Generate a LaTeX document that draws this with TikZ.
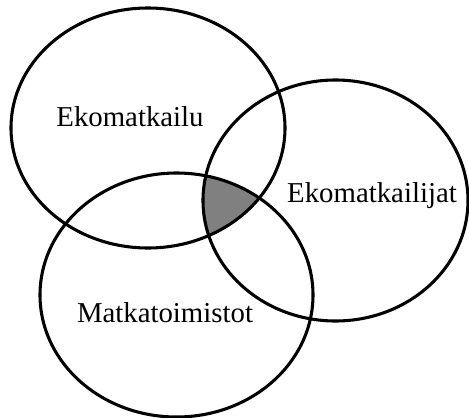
\documentclass[tikz,border=0pt]{standalone}
\usepackage{fontspec}
\setmainfont{Liberation Serif}
\begin{document}
\begin{tikzpicture}[x=0.75pt,y=-0.75pt,
  ring/.style={line width=2.3pt,draw=black},
  lbl/.style={font=\fontsize{21.6}{24}\selectfont,anchor=base,inner sep=0pt}]
\useasboundingbox (0,0) rectangle (469,418);
\begin{scope}
  \clip (148,128) ellipse [x radius=137,y radius=120];
  \clip (335.5,200.5) ellipse [x radius=132.5,y radius=120.5];
  \fill[black!50] (176.5,295) ellipse [x radius=136.5,y radius=122];
\end{scope}
\draw[ring] (148,128) ellipse [x radius=137,y radius=120];
\draw[ring] (335.5,200.5) ellipse [x radius=132.5,y radius=120.5];
\draw[ring] (176.5,295) ellipse [x radius=136.5,y radius=122];
\node[lbl] (eko) at (130,126.5) {Ekomatkailu};
\node[lbl] (ekij) at (372,202.5) {Ekomatkailijat};
\node[lbl] (mat) at (165,322.5) {Matkatoimistot};
\end{tikzpicture}
\end{document}
